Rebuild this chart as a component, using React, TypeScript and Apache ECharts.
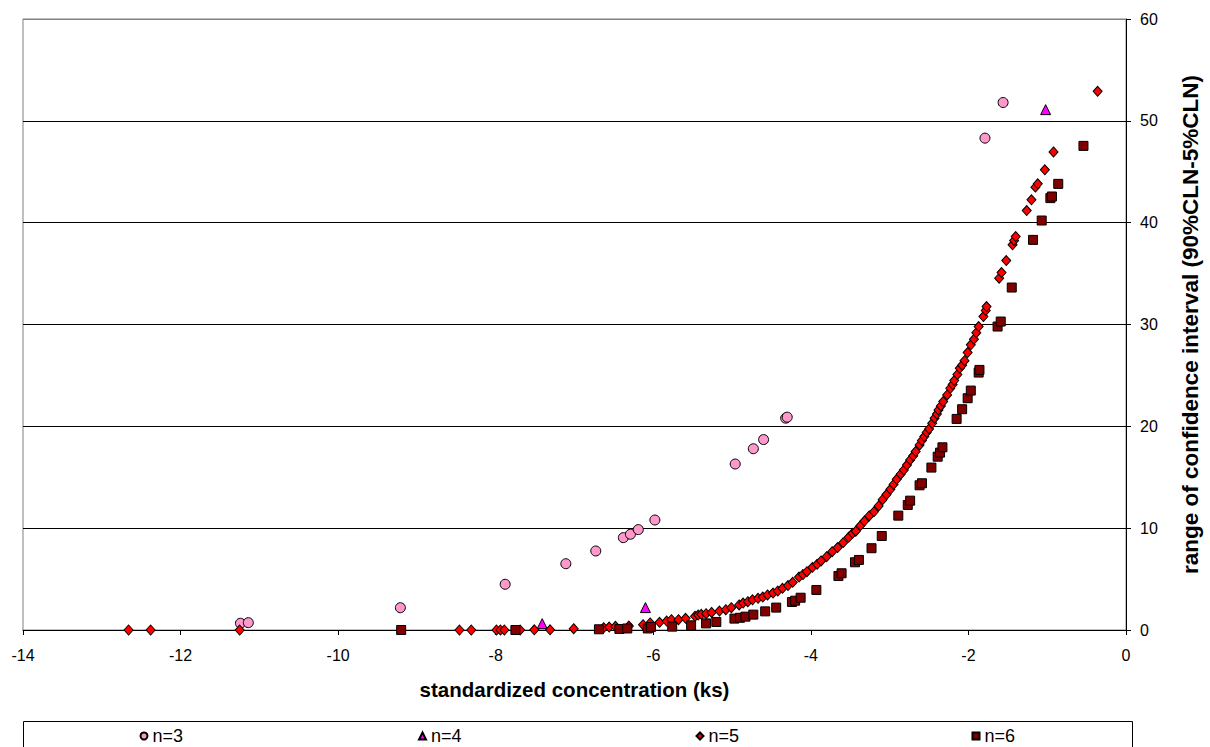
import React, { useEffect, useRef } from "react";
import * as echarts from "echarts";

// n=3 (pink circles)
const n3: number[][] = [
  [-11.24, 0.66], [-11.14, 0.72], [-9.21, 2.19], [-7.88, 4.49], [-7.11, 6.51],
  [-6.73, 7.76], [-6.38, 9.07], [-6.29, 9.4], [-6.19, 9.86], [-5.98, 10.8],
  [-4.96, 16.3], [-4.73, 17.8], [-4.6, 18.7], [-4.32, 20.8], [-4.3, 20.9],
  [-1.79, 48.3], [-1.56, 51.8],
];

// n=4 (magenta triangles)
const n4: number[][] = [
  [-7.41, 0.62], [-6.1, 2.2], [-1.02, 51.1],
];

// n=5 (red diamonds)
const n5: number[][] = [
  [-12.66, 0], [-12.38, 0], [-11.25, 0], [-8.46, 0], [-8.31, 0], [-7.99, 0],
  [-7.94, 0], [-7.89, 0], [-7.69, 0], [-7.51, 0.02], [-7.31, 0.02], [-7.01, 0.13],
  [-6.63, 0.23], [-6.56, 0.29], [-6.48, 0.36], [-6.31, 0.39], [-6.13, 0.52],
  [-6.04, 0.69], [-5.92, 0.75], [-5.83, 0.88], [-5.77, 1.01], [-5.68, 1.01],
  [-5.59, 1.15], [-5.47, 1.34], [-5.43, 1.47], [-5.39, 1.54], [-5.33, 1.6],
  [-5.26, 1.73], [-5.16, 1.86], [-5.08, 1.99], [-5.01, 2.19], [-4.91, 2.46],
  [-4.86, 2.65], [-4.8, 2.78], [-4.74, 2.97], [-4.67, 3.11], [-4.61, 3.24],
  [-4.55, 3.44], [-4.48, 3.63], [-4.42, 3.83], [-4.36, 4.09], [-4.29, 4.36],
  [-4.23, 4.68], [-4.15, 5.2], [-4.1, 5.45], [-4.05, 5.73], [-3.98, 6.15],
  [-3.92, 6.45], [-3.87, 6.78], [-3.8, 7.2], [-3.73, 7.69], [-3.66, 8.1],
  [-3.59, 8.58], [-3.52, 9.1], [-3.47, 9.5], [-3.43, 9.7], [-3.37, 10.25],
  [-3.32, 10.7], [-3.26, 11.2], [-3.2, 11.6], [-3.14, 12.18], [-3.09, 12.8],
  [-3.04, 13.3], [-2.99, 13.82], [-2.95, 14.3], [-2.91, 14.8], [-2.86, 15.3],
  [-2.82, 15.72], [-2.78, 16.2], [-2.74, 16.7], [-2.7, 17.1], [-2.67, 17.52],
  [-2.62, 18.17], [-2.59, 18.6], [-2.56, 18.99], [-2.53, 19.4], [-2.5, 19.74],
  [-2.46, 20.3], [-2.43, 20.8], [-2.4, 21.2], [-2.38, 21.61], [-2.35, 22.0],
  [-2.32, 22.43], [-2.27, 23.08], [-2.23, 23.74], [-2.2, 24.1], [-2.18, 24.49],
  [-2.14, 25.1], [-2.11, 25.7], [-2.08, 26.0], [-2.05, 26.45], [-2.01, 27.24],
  [-1.97, 28.0], [-1.93, 28.55], [-1.9, 29.2], [-1.87, 29.8], [-1.81, 30.78],
  [-1.78, 31.37], [-1.77, 31.76], [-1.61, 34.55], [-1.58, 35.1], [-1.52, 36.28],
  [-1.44, 37.82], [-1.42, 38.25], [-1.4, 38.64], [-1.26, 41.19], [-1.2, 42.24],
  [-1.15, 43.49], [-1.12, 43.81], [-1.03, 45.19], [-0.92, 46.95], [-0.36, 52.9],
];

// n=6 (dark red squares)
const n6: number[][] = [
  [-9.2, 0], [-7.75, 0], [-6.69, 0.07], [-6.43, 0.1], [-6.33, 0.15], [-6.07, 0.15],
  [-6.03, 0.3], [-5.76, 0.33], [-5.52, 0.46], [-5.33, 0.65], [-5.2, 0.79],
  [-4.97, 1.12], [-4.9, 1.2], [-4.83, 1.31], [-4.73, 1.51], [-4.58, 1.83],
  [-4.44, 2.2], [-4.24, 2.75], [-4.2, 2.88], [-4.13, 3.17], [-3.93, 3.93],
  [-3.65, 5.3], [-3.61, 5.57], [-3.44, 6.65], [-3.39, 6.88], [-3.23, 8.03],
  [-3.1, 9.23], [-2.89, 11.23], [-2.77, 12.28], [-2.74, 12.7], [-2.62, 14.21],
  [-2.59, 14.41], [-2.47, 15.95], [-2.39, 17.02], [-2.36, 17.42], [-2.33, 17.94],
  [-2.15, 20.73], [-2.08, 21.68], [-2.01, 22.76], [-1.97, 23.51], [-1.87, 25.28],
  [-1.86, 25.54], [-1.63, 29.8], [-1.59, 30.29], [-1.45, 33.63], [-1.18, 38.31],
  [-1.07, 40.21], [-0.96, 42.41], [-0.94, 42.57], [-0.86, 43.81], [-0.54, 47.54],
];

const seriesNames = ["n=3", "n=4", "n=5", "n=6"];
const xTitle = "standardized concentration (ks)";
const yTitle = "range of confidence interval (90%CLN-5%CLN)";

const FONT = "'Liberation Sans', Arial, sans-serif";

export default function App() {
  const ref = useRef<HTMLDivElement>(null);

  useEffect(() => {
    document.body.style.margin = "0";
    if (!ref.current) return;
    const chart = echarts.init(ref.current, undefined, { renderer: "svg" });

    const legendLeft = [139.5, 418, 695.5, 971.5];

    const option: any = {
      animation: false,
      backgroundColor: "#ffffff",
      textStyle: { fontFamily: FONT },
      grid: {
        left: 23,
        right: 78,
        top: 19,
        bottom: 117,
        show: true,
        borderColor: "#808080",
        borderWidth: 1,
        backgroundColor: "transparent",
      },
      legend: seriesNames.map((nm, i) => ({
        data: [nm],
        left: legendLeft[i],
        top: 727,
        itemWidth: 7,
        itemHeight: 7,
        itemGap: 4,
        padding: 0,
        textStyle: { fontSize: 18, color: "#000", fontFamily: FONT },
        selectedMode: false,
      })),
      graphic: [
        {
          type: "rect",
          shape: { x: 23.5, y: 721.5, width: 1109, height: 60 },
          style: { fill: "none", stroke: "#000", lineWidth: 1 },
          silent: true,
        },
      ],
      xAxis: {
        type: "value",
        min: -14,
        max: 0,
        interval: 2,
        splitLine: { show: false },
        axisLine: { show: true, onZero: false, lineStyle: { color: "#000", width: 1 } },
        axisTick: { show: true, inside: false, length: 5, lineStyle: { color: "#000" } },
        axisLabel: { margin: 17, fontSize: 16, color: "#000", fontFamily: FONT },
        name: xTitle,
        nameLocation: "middle",
        nameGap: 49,
        nameTextStyle: { fontSize: 20.5, fontWeight: "bold", color: "#000", fontFamily: FONT },
      },
      yAxis: {
        type: "value",
        position: "right",
        min: 0,
        max: 60,
        interval: 10,
        splitLine: {
          show: true,
          lineStyle: {
            color: ["#000", "#000", "#000", "#000", "#000", "#000", "#808080"],
            width: 1,
          },
        },
        axisLine: { show: true, lineStyle: { color: "#000", width: 1 } },
        axisTick: { show: true, inside: false, length: 5, lineStyle: { color: "#000" } },
        axisLabel: { margin: 14, fontSize: 16, color: "#000", fontFamily: FONT },
        name: yTitle,
        nameLocation: "middle",
        nameGap: 53,
        nameRotate: 90,
        nameTextStyle: { fontSize: 22.5, fontWeight: "bold", color: "#000", fontFamily: FONT },
      },
      series: [
        {
          name: seriesNames[0],
          type: "scatter",
          data: n3,
          symbol: "circle",
          symbolSize: 10,
          itemStyle: { color: "#FF99CC", borderColor: "#000", borderWidth: 1, opacity: 1 },
          z: 2,
        },
        {
          name: seriesNames[1],
          type: "scatter",
          data: n4,
          symbol: "triangle",
          symbolSize: 10,
          itemStyle: { color: "#FF00FF", borderColor: "#000", borderWidth: 1, opacity: 1 },
          z: 3,
        },
        {
          name: seriesNames[2],
          type: "scatter",
          data: n5,
          symbol: "diamond",
          symbolSize: [9, 10],
          itemStyle: { color: "#FF0000", borderColor: "#000", borderWidth: 1, opacity: 1 },
          z: 4,
        },
        {
          name: seriesNames[3],
          type: "scatter",
          data: n6,
          symbol: "rect",
          symbolSize: 9,
          itemStyle: { color: "#800000", borderColor: "#000", borderWidth: 1, opacity: 1 },
          z: 5,
        },
      ],
    };

    chart.setOption(option);
    return () => {
      chart.dispose();
    };
  }, []);

  return <div ref={ref} style={{ width: 1210, height: 747 }} />;
}
